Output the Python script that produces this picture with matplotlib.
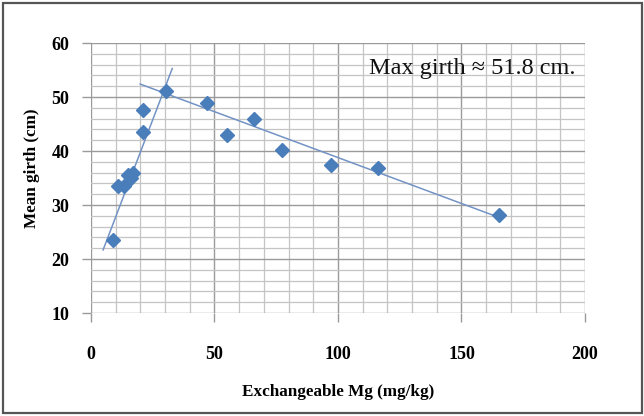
import matplotlib
matplotlib.use("Agg")
import matplotlib.pyplot as plt
from matplotlib.patches import Rectangle
from matplotlib.ticker import MultipleLocator
import numpy as np

# Exchangeable Mg (mg/kg) and mean girth (cm) per plot
mg = [9, 11, 13.5, 15, 16, 17, 21, 21, 30.5, 47, 55, 66, 77.5, 97, 116, 165]
girth = [23.5, 33.5, 33.5, 35.5, 35, 36, 47.6, 43.5, 51.2, 48.8, 43, 46, 40.2, 37.4, 36.9, 28.2]

# Fitted trend lines: (slope, intercept, x-start, x-end)
rise_fit = (1.2, 15.8, 4.9, 32.9)
fall_fit = (-0.17, 55.78, 19.9, 166)

x_ticks = [0, 50, 100, 150, 200]
y_ticks = [10, 20, 30, 40, 50, 60]

W, H = 644, 416
fig = plt.figure(figsize=(W / 100, H / 100), dpi=100)
fig.patch.set_facecolor("white")

# Chart-area border
fig.patches.append(Rectangle((3 / W, 3 / H), 639 / W, 410 / H, transform=fig.transFigure,
                             fill=False, edgecolor="#555555", linewidth=1.6, zorder=0))

ax = fig.add_axes([91 / W, 1 - 313 / H, 494 / W, 270 / H])
ax.set_xlim(0, 200)
ax.set_ylim(10, 60)

ax.xaxis.set_major_locator(MultipleLocator(50))
ax.xaxis.set_minor_locator(MultipleLocator(10))
ax.yaxis.set_major_locator(MultipleLocator(10))
ax.yaxis.set_minor_locator(MultipleLocator(2))
ax.set_xticks(x_ticks)
ax.set_yticks(y_ticks)

ax.grid(which="major", color="#9a9a9a", linewidth=1.0)
ax.grid(which="minor", color="#c4c4c4", linewidth=0.9)
ax.set_axisbelow(True)
for s in ax.spines.values():
    s.set_visible(False)

tick_font = dict(family="Liberation Serif", weight="bold", size=13)
ax.tick_params(which="major", axis="x", length=6.5, width=1, color="#9a9a9a", pad=17)
ax.tick_params(which="major", axis="y", length=6.5, width=1, color="#9a9a9a", pad=9)
ax.tick_params(which="minor", length=0)
ax.set_xticklabels([str(v) for v in x_ticks], **tick_font)
ax.set_yticklabels([str(v) for v in y_ticks], **tick_font)

for slope, icpt, x0, x1 in (rise_fit, fall_fit):
    xs = np.array([x0, x1])
    ax.plot(xs, slope * xs + icpt, color="#7393c4", linewidth=1.1, zorder=2)

ax.plot(mg, girth, linestyle="none", marker="D", markersize=7,
        color="#4a7ebb", markeredgecolor="#4a7ebb", zorder=3)

ax.text(0.98, 0.885, "Max girth \u2248 51.8 cm.", transform=ax.transAxes,
        ha="right", va="baseline", family="Liberation Serif", size=17.5, color="#111111")

fig.text(338 / W, 1 - 392 / H, "Exchangeable Mg (mg/kg)", ha="center", va="center",
         family="Liberation Serif", weight="bold", size=12.3)
fig.text(32 / W, 1 - 168 / H, "Mean girth (cm)", ha="center", va="center", rotation=90,
         family="Liberation Serif", weight="bold", size=12.3)

fig.savefig("out.png", dpi=100, facecolor="white")
